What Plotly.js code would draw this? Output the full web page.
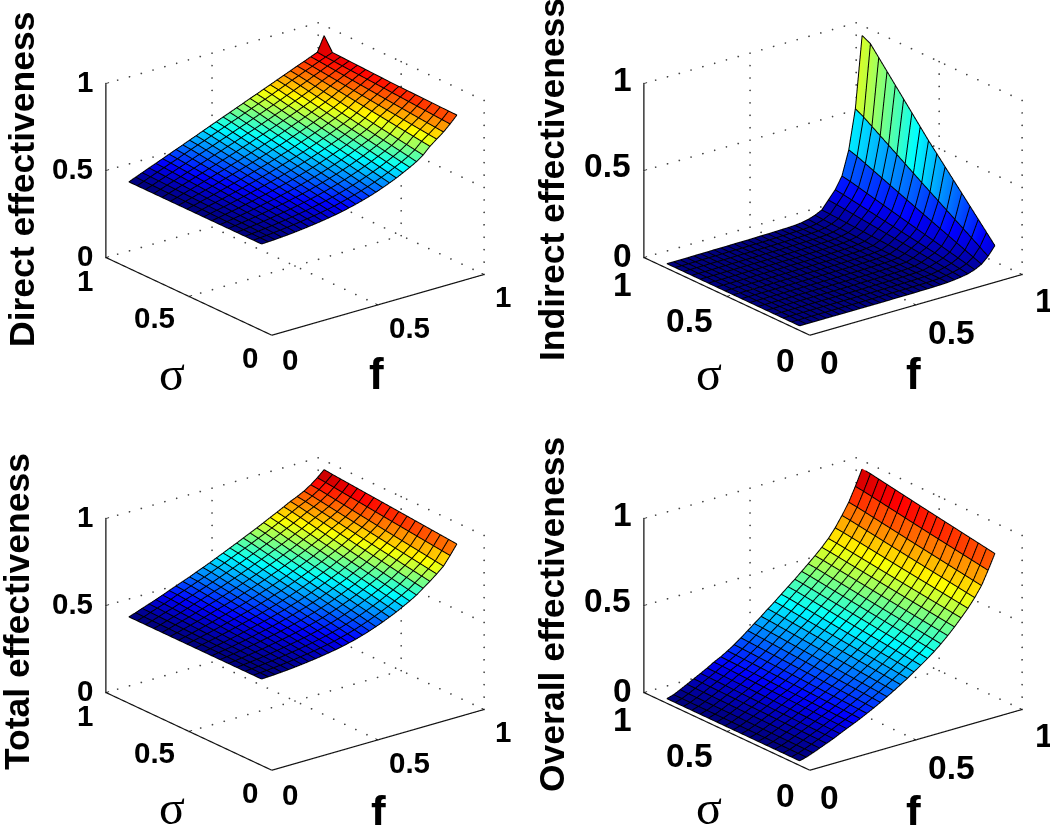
<!DOCTYPE html>
<html><head><meta charset="utf-8">
<script src="https://cdn.plot.ly/plotly-3.0.1.min.js"></script>
<style>html,body{margin:0;padding:0;background:#fff}#c{width:1050px;height:825px}</style></head>
<body><div id="c"></div>
<script>
const fRows=[.03,.062,.093,.125,.157,.189,.22,.252,.284,.316,.347,.379,.411,.442,.474,.506,.538,.569,.601,.633,.665,.696,.728,.76,.791,.823,.855,.887,.918,.95];
const sigmaCols=[.1,.5,.85,.9];
const sigmaMesh=[.1,.15,.2,.25,.3,.35,.4,.45,.5,.55,.6,.65,.7,.75,.8,.85,.9];
const tickVals=[0,.5,1];
const tickText=['0','0.5','1'];

const directS10=[.47,.472,.474,.477,.48,.484,.488,.493,.498,.504,.51,.517,.525,.534,.544,.555,.567,.58,.595,.611,.628,.647,.667,.689,.716,.755,.785,.815,.85,.89];
const directS50=[.47,.479,.488,.497,.506,.516,.526,.536,.546,.557,.568,.579,.591,.603,.616,.629,.643,.657,.672,.688,.704,.721,.739,.758,.78,.807,.83,.853,.878,.90];
const directS85=[.47,.485,.5,.515,.53,.545,.559,.575,.59,.605,.619,.635,.65,.665,.681,.695,.711,.726,.742,.757,.773,.789,.805,.822,.837,.854,.869,.886,.90,.915];
const directS90=[.47,.486,.501,.517,.532,.548,.563,.579,.594,.61,.625,.641,.657,.672,.688,.703,.719,.734,.75,.765,.781,.796,.812,.828,.843,.859,.874,.89,.905,.99];

const indirectS10=[0,0,0,0,0,0,0,0,0,0,0,0,0,0,.001,.001,.001,.001,.002,.002,.003,.004,.006,.01,.015,.022,.035,.055,.09,.14];
const indirectS50=[0,0,0,0,0,0,.001,.001,.001,.001,.001,.002,.002,.002,.003,.003,.003,.004,.005,.006,.007,.01,.014,.032,.058,.085,.125,.205,.335,.565];
const indirectS85=[0,0,0,0,.001,.001,.001,.001,.002,.002,.002,.003,.003,.003,.004,.005,.006,.007,.008,.009,.012,.019,.032,.052,.096,.142,.207,.34,.555,.965];
const indirectS90=[0,0,0,0,.001,.001,.001,.002,.002,.002,.003,.003,.003,.004,.005,.005,.006,.007,.008,.01,.014,.022,.035,.054,.10,.148,.216,.355,.58,.99];

const totalS10=[.47,.472,.474,.477,.48,.484,.488,.493,.498,.504,.51,.517,.525,.534,.544,.556,.569,.583,.599,.616,.634,.654,.675,.698,.726,.755,.786,.82,.87,.925];
const totalS50=[.47,.478,.486,.494,.503,.512,.522,.532,.542,.552,.563,.575,.587,.6,.613,.628,.643,.659,.676,.694,.712,.732,.752,.773,.797,.82,.846,.875,.915,.96];
const totalS85=[.47,.482,.496,.51,.523,.538,.553,.567,.582,.597,.611,.627,.643,.659,.676,.693,.71,.727,.745,.763,.782,.801,.82,.841,.861,.879,.899,.925,.955,.99];
const totalS90=[.47,.483,.497,.511,.525,.54,.555,.57,.585,.6,.616,.632,.648,.665,.682,.70,.717,.735,.753,.771,.79,.809,.828,.848,.868,.885,.905,.93,.96,.995];

const overallS10=[0,.01,.024,.04,.056,.072,.09,.108,.125,.143,.162,.182,.203,.225,.248,.272,.297,.323,.35,.378,.408,.44,.476,.515,.556,.60,.65,.708,.785,.87];
const overallS50=[0,.011,.027,.045,.063,.081,.1,.12,.138,.159,.181,.205,.23,.256,.283,.311,.338,.367,.397,.427,.459,.491,.527,.565,.605,.652,.707,.769,.847,.935];
const overallS85=[0,.012,.029,.049,.069,.089,.109,.132,.151,.173,.198,.225,.255,.285,.315,.346,.376,.408,.44,.471,.505,.538,.573,.61,.65,.70,.759,.824,.904,.994];
const overallS90=[0,.012,.03,.05,.07,.09,.11,.133,.152,.175,.20,.228,.258,.288,.318,.35,.38,.412,.444,.476,.51,.543,.578,.615,.655,.705,.765,.83,.91,1];

const jet=[[0,'#00007f'],[.125,'#0000ff'],[.375,'#00ffff'],[.625,'#ffff00'],[.875,'#ff0000'],[1,'#7f0000']];

const panels=[
 {name:'Direct effectiveness',cols:[directS10,directS50,directS85,directS90],cx:295,cy:178.5,cmin:.47,cmax:.95,size:29.5,ztx:22,zty:180,sx:172,sy:373,fx:376,fy:373,shift:'A'},
 {name:'Indirect effectiveness',cols:[indirectS10,indirectS50,indirectS85,indirectS90],cx:833,cy:178.5,cmin:0,cmax:.99,size:33.5,ztx:552,zty:180,sx:709,sy:373,fx:913,fy:373,shift:'B'},
 {name:'Total effectiveness',cols:[totalS10,totalS50,totalS85,totalS90],cx:295,cy:613.5,cmin:.47,cmax:1,size:29.5,ztx:17,zty:612,sx:172,sy:807,fx:378,fy:811,shift:'A'},
 {name:'Overall effectiveness',cols:[overallS10,overallS50,overallS85,overallS90],cx:833,cy:613.5,cmin:0,cmax:1,size:33.5,ztx:552,zty:615,sx:709,sy:807,fx:913,fy:811,shift:'B'}
];
const shifts={
 A:{z:[[-21,2],[-33,1.5],[-21,2]],s:[[-22,-23],[-34,-22],[-21,-23]],f:[[18,-25],[32,-23],[19,-23]]},
 B:{z:[[-21,2],[-36,4.5],[-21,4]],s:[[-24,-26],[-37,-25],[-21,-27]],f:[[20,-28],[36,-28],[22,-27]]}
};
const W=1050,H=825,halfW=215,halfH=170;
const eye={x:-.573,y:-.733,z:.366},eyeK=1.5,scale=1.585;
const lift={x:-.004,y:-.005,z:.0025};

const traces=[];const layout={width:W,height:H,margin:{l:0,r:0,t:0,b:0},paper_bgcolor:'#fff',showlegend:false,annotations:[]};

function seg(x,y,z,scene,width){
  traces.push({type:'scatter3d',mode:'lines',x,y,z,scene,hoverinfo:'skip',showlegend:false,
    line:{color:'#111',width:width||2.4}});
}
function heightAt(p,rowIdx,sig){
  let k=0;while(k<sigmaCols.length-2&&sig>sigmaCols[k+1])k++;
  const t=(sig-sigmaCols[k])/(sigmaCols[k+1]-sigmaCols[k]);
  return p.cols[k][rowIdx]*(1-t)+p.cols[k+1][rowIdx]*t;
}
panels.forEach((p,idx)=>{
  const scene='scene'+(idx?idx+1:'');
  const eps=1e-4,x=[],zz=sigmaCols.map(()=>[]),cc=sigmaCols.map(()=>[]);
  for(let i=0;i<fRows.length-1;i++){
    x.push(fRows[i],fRows[i+1]-eps);
    p.cols.forEach((c,s)=>{zz[s].push(c[i],c[i+1]);cc[s].push(c[i],c[i]);});
  }
  traces.push({type:'surface',scene,x,y:sigmaCols,z:zz,surfacecolor:cc,cmin:p.cmin,cmax:p.cmax,colorscale:jet,showscale:false,hoverinfo:'skip',
    lighting:{ambient:1,diffuse:0,specular:0,roughness:1,fresnel:0},
    contours:{x:{show:false,highlight:false},y:{show:false,highlight:false},z:{show:false,highlight:false}}});
  const mx=[],my=[],mz=[];
  fRows.forEach((f,i)=>{
    sigmaCols.forEach((s,k)=>{mx.push(f+lift.x);my.push(s+lift.y);mz.push(p.cols[k][i]+lift.z);});
    mx.push(null);my.push(null);mz.push(null);
  });
  sigmaMesh.forEach(s=>{
    fRows.forEach((f,i)=>{mx.push(f+lift.x);my.push(s+lift.y);mz.push(heightAt(p,i,s)+lift.z);});
    mx.push(null);my.push(null);mz.push(null);
  });
  traces.push({type:'scatter3d',mode:'lines',scene,x:mx,y:my,z:mz,hoverinfo:'skip',showlegend:false,connectgaps:false,line:{color:'#000',width:2}});
  const dx=[],dy=[],dz=[];
  const dots=(a,b,n)=>{for(let i=0;i<=n;i++){const t=i/n;dx.push(a[0]+(b[0]-a[0])*t);dy.push(a[1]+(b[1]-a[1])*t);dz.push(a[2]+(b[2]-a[2])*t);}};
  tickVals.forEach(t=>{
    if(t>0)dots([t,0,0],[t,1,0],15);
    if(t>0)dots([0,t,0],[1,t,0],18);
    dots([0,1,t],[1,1,t],18);
    dots([1,0,t],[1,1,t],15);
    if(t>0)dots([t,1,0],[t,1,1],14);
    dots([1,t,0],[1,t,1],14);
  });
  traces.push({type:'scatter3d',mode:'markers',scene,x:dx,y:dy,z:dz,hoverinfo:'skip',showlegend:false,marker:{size:1,color:'#444',opacity:1,line:{width:0}}});
  seg([0,0],[1,1],[0,1],scene);
  seg([0,1],[0,0],[0,0],scene);
  seg([0,0],[0,1],[0,0],scene);
  tickVals.forEach(t=>{
    seg([0,.015],[1,1],[t,t],scene,1.5);
    seg([t,t],[0,.015],[0,0],scene,1.5);
    seg([0,.015],[t,t],[0,0],scene,1.5);
  });
  const sh=shifts[p.shift],font={family:'Liberation Sans',size:p.size,color:'#000',weight:700};
  const anns=[];
  tickVals.forEach((t,i)=>{
    anns.push({x:0,y:1,z:t,text:tickText[i],showarrow:false,xanchor:'center',yanchor:'middle',xshift:sh.z[i][0],yshift:sh.z[i][1],font});
    anns.push({x:0,y:t,z:0,text:tickText[i],showarrow:false,xanchor:'center',yanchor:'middle',xshift:sh.s[i][0],yshift:sh.s[i][1],font});
    anns.push({x:t,y:0,z:0,text:tickText[i],showarrow:false,xanchor:'center',yanchor:'middle',xshift:sh.f[i][0],yshift:sh.f[i][1],font});
  });
  const ax={range:[0,1],autorange:false,showgrid:false,zeroline:false,showticklabels:false,showline:false,ticks:'',showbackground:false,showspikes:false,title:{text:''}};
  layout[scene]={domain:{x:[(p.cx-halfW)/W,(p.cx+halfW)/W],y:[1-(p.cy+halfH)/H,1-(p.cy-halfH)/H]},
    xaxis:{...ax},yaxis:{...ax},zaxis:{...ax},
    aspectmode:'manual',aspectratio:{x:scale,y:scale,z:.694*scale},
    camera:{eye:{x:eye.x*eyeK,y:eye.y*eyeK,z:eye.z*eyeK},center:{x:0,y:0,z:0},up:{x:0,y:0,z:1},projection:{type:'orthographic'}},
    annotations:anns,dragmode:false};
  layout.annotations.push(
   {xref:'paper',yref:'paper',x:p.ztx/W,y:1-p.zty/H,text:p.name,textangle:-90,showarrow:false,xanchor:'center',yanchor:'middle',font:{family:'Liberation Sans',size:35.5,weight:700,color:'#000'}},
   {xref:'paper',yref:'paper',x:p.sx/W,y:1-p.sy/H,text:'σ',showarrow:false,xanchor:'center',yanchor:'middle',font:{family:'Liberation Serif',size:48,color:'#000'}},
   {xref:'paper',yref:'paper',x:p.fx/W,y:1-p.fy/H,text:'f',showarrow:false,xanchor:'center',yanchor:'middle',font:{family:'Liberation Sans',size:44,weight:700,color:'#000'}});
});
Plotly.newPlot('c',traces,layout,{displayModeBar:false});
</script></body></html>
